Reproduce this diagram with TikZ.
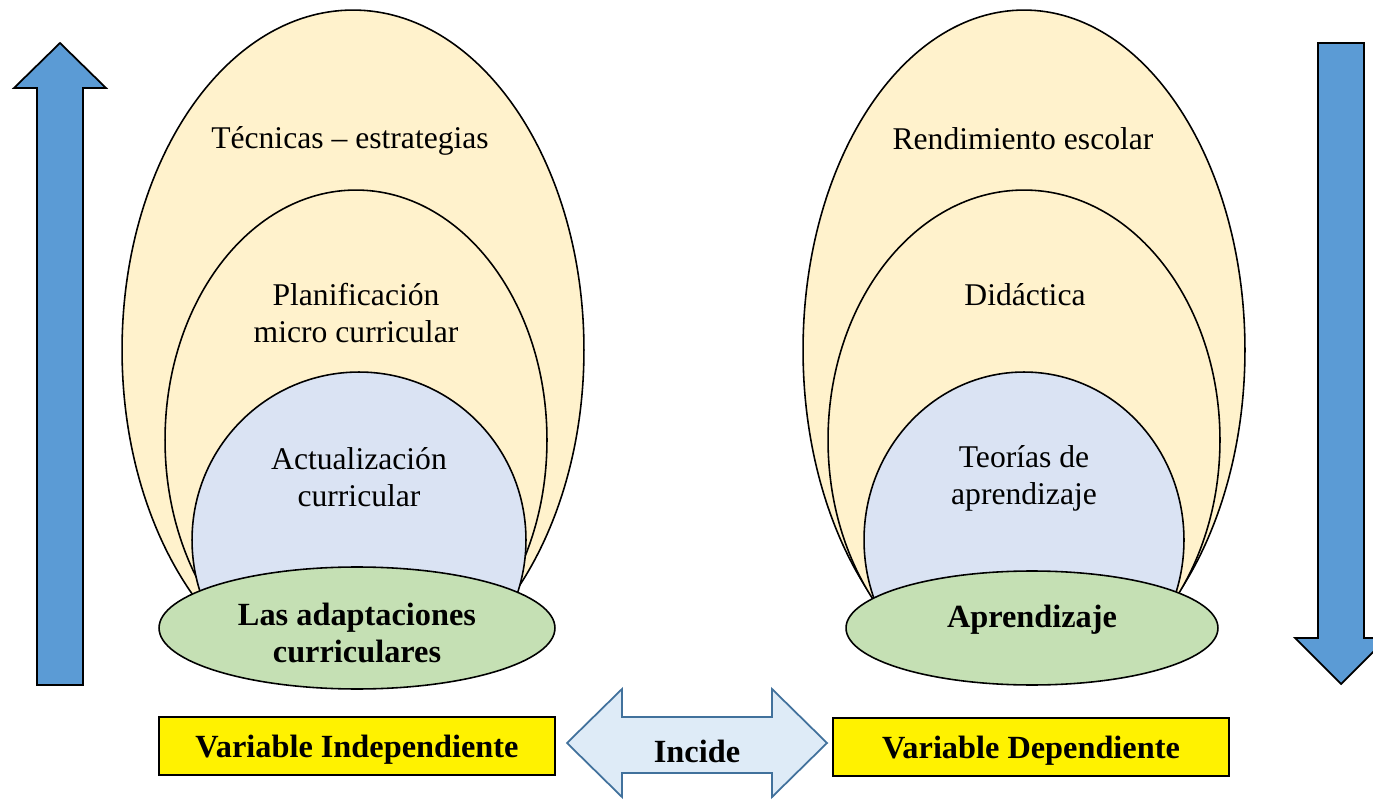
\documentclass[tikz,border=0pt]{standalone}
\usepackage{fontspec}
\setmainfont{Liberation Serif}
\usetikzlibrary{shapes.geometric}
\definecolor{beige}{HTML}{FFF2CC}
\definecolor{lblue}{HTML}{DAE3F3}
\definecolor{lgreen}{HTML}{C5E0B4}
\definecolor{arrowblue}{HTML}{5B9BD5}
\definecolor{dblfill}{HTML}{DEEBF7}
\definecolor{dbldraw}{HTML}{41719C}
\begin{document}
\begin{tikzpicture}[x=0.02cm,y=-0.02cm,
  ell/.style={ellipse,draw=black,line width=0.9pt,inner sep=0pt},
  beigeell/.style={ell,fill=beige},
  blueell/.style={ell,fill=lblue},
  greenell/.style={ell,fill=lgreen},
  lbl/.style={align=center,font=\fontsize{18}{21}\selectfont},
  blbl/.style={align=center,font=\fontsize{18.4}{21.5}\selectfont\bfseries},
  varbox/.style={draw=black,line width=0.9pt,fill=yellow,minimum width=7.92cm,minimum height=1.16cm,inner sep=0pt},
  bigarrow/.style={draw=black,line width=1pt,fill=arrowblue,line join=miter},
  dblarrow/.style={draw=dbldraw,line width=1pt,fill=dblfill,line join=miter}
]
\useasboundingbox (0,0) rectangle (1373,800);
\clip (0,0) rectangle (1373,800);

% ellipses, cut below (hidden by the green ellipses)
\begin{scope}
\clip (0,0) rectangle (1373,620);
\node[beigeell,minimum width=9.24cm,minimum height=13.6cm] (lo) at (353,350) {};
\node[beigeell,minimum width=7.64cm,minimum height=10cm] (lm) at (356,440) {};
\node[blueell,minimum width=6.68cm,minimum height=6.72cm] (li) at (359,540) {};
\node[beigeell,minimum width=8.84cm,minimum height=13.6cm] (ro) at (1024,350) {};
\node[beigeell,minimum width=7.84cm,minimum height=10cm] (rm) at (1024,440) {};
\node[blueell,minimum width=6.4cm,minimum height=6.72cm] (ri) at (1024,540) {};
\end{scope}

\node[greenell,minimum width=7.92cm,minimum height=2.44cm] (lg) at (357,628) {};
\node[greenell,minimum width=7.44cm,minimum height=2.28cm] (rg) at (1032,628) {};
\node[blbl] (lgt) at (357,633) {Las adaptaciones\\curriculares};
\node[blbl] (rgt) at (1032,620) {Aprendizaje};

% labels
\node[lbl] (t1) at (350,141) {Técnicas – estrategias};
\node[lbl] (t2) at (356,313) {Planificación\\micro curricular};
\node[lbl] (t3) at (359,477) {Actualización\\curricular};
\node[lbl] (t4) at (1023,139) {Rendimiento escolar};
\node[lbl] (t5) at (1025,295) {Didáctica};
\node[lbl] (t6) at (1024,478) {Teorías de\\aprendizaje};

% vertical arrows
\draw[bigarrow] (60,43) -- (106,88) -- (83,88) -- (83,685) -- (37,685) -- (37,88) -- (14,88) -- cycle;
\draw[bigarrow] (1341,684) -- (1295,638) -- (1318,638) -- (1318,43) -- (1364,43) -- (1364,638) -- (1387,638) -- cycle;

% variable boxes
\node[varbox] (vi) at (357,746) {};
\node[varbox] (vd) at (1031,747) {};
\node[blbl] (vit) at (357,750) {Variable Independiente};
\node[blbl] (vdt) at (1031,751) {Variable Dependiente};

% double arrow
\draw[dblarrow] (567,743) -- (622,689) -- (622,717) -- (772,717) -- (772,689) -- (827,743) -- (772,797) -- (772,773) -- (622,773) -- (622,797) -- cycle;
\node[blbl] (inc) at (697,751) {Incide};
\end{tikzpicture}
\end{document}
